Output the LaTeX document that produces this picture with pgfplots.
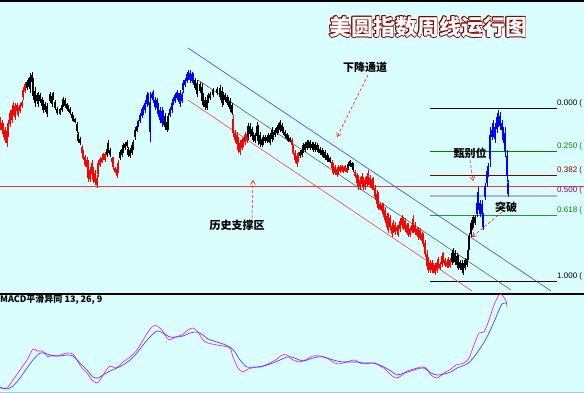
\documentclass[border=0pt]{standalone}
\usepackage{fontspec}
\setmainfont{Liberation Sans}
\newfontfamily\cjk{Noto Sans CJK SC}
\usepackage{pgfplots}
\usepackage{pgfplotstable}
\pgfplotsset{compat=1.18}
\usetikzlibrary{arrows.meta}
\definecolor{bgc}{RGB}{218,253,253}
\definecolor{cred}{RGB}{255,0,0}
\definecolor{cblue}{RGB}{0,0,255}
\definecolor{dred}{RGB}{128,0,0}
\definecolor{fgreen}{RGB}{0,128,0}
\definecolor{lgreen}{RGB}{40,150,40}
\definecolor{lav}{RGB}{176,176,230}
\definecolor{purp}{RGB}{128,0,128}
\definecolor{mag}{RGB}{255,0,255}

\pgfplotstableread{
x lo hi
0 117 130
2 120 133
3 123 137
5 127 143
7 127 147
8 120 137
10 110 127
12 107 123
13 102 115
15 103 120
17 103 113
18 107 117
20 103 113
22 100 108
23 87 100
25 82 93
82 145 155
83 150 160
85 155 167
87 157 170
88 160 182
90 167 182
92 160 177
93 167 183
95 170 185
97 175 188
98 160 177
100 157 167
102 157 163
103 153 160
105 152 162
112 157 163
113 157 170
115 167 173
117 167 178
118 160 173
233 115 137
235 130 143
237 132 147
238 137 153
240 140 155
242 138 150
243 137 147
245 132 145
247 132 143
292 138 147
293 145 155
295 150 163
297 153 167
298 152 162
332 160 170
333 163 175
335 165 175
337 167 177
338 165 175
340 165 173
342 165 172
343 167 173
345 165 172
347 167 173
355 170 178
357 173 185
358 175 190
360 177 190
362 173 187
363 177 190
365 177 190
367 173 187
368 170 185
370 175 188
372 178 190
373 177 190
375 185 200
377 190 208
378 192 210
380 203 210
382 203 213
383 203 217
385 207 223
387 213 230
388 213 233
390 215 230
392 223 237
393 220 233
395 222 235
397 225 233
398 225 237
400 218 232
402 215 228
403 217 230
405 218 232
407 223 235
408 223 237
410 227 237
412 223 233
413 215 233
415 222 235
417 227 237
418 227 240
420 228 240
422 232 243
423 233 247
425 240 257
427 250 270
428 257 273
430 260 273
432 260 273
433 263 273
435 263 275
437 260 273
438 257 268
440 262 270
442 253 267
443 252 263
445 258 267
447 260 268
448 257 268
450 258 268
}\redT

\pgfplotstableread{
x lo hi
27 80 90
28 78 87
30 73 93
32 72 85
33 78 100
35 87 107
37 93 103
38 92 107
40 93 103
42 97 108
43 100 113
45 102 112
47 103 117
50 92 103
52 93 107
53 92 100
55 100 110
57 107 115
60 108 115
62 103 112
63 97 107
65 98 108
67 103 110
68 105 112
70 107 115
72 112 120
73 115 122
75 118 123
77 122 133
78 132 143
80 137 145
107 147 157
108 140 153
110 148 157
120 150 160
122 147 157
123 143 153
125 142 150
127 140 148
128 147 157
130 148 158
132 143 155
133 140 150
135 127 140
137 125 132
165 113 130
167 120 132
168 113 130
195 78 90
197 80 97
200 82 93
202 83 105
203 93 107
205 97 110
207 98 110
208 93 103
210 92 100
213 88 97
217 87 95
220 85 100
222 87 107
223 92 105
225 93 102
227 95 105
228 97 107
230 98 112
232 103 115
248 123 140
250 123 137
252 127 138
253 132 142
255 133 143
257 122 140
258 125 145
260 132 147
262 137 147
263 135 145
265 135 143
267 135 143
268 133 142
270 133 145
272 127 142
273 132 140
275 128 137
277 125 135
278 123 133
280 120 132
282 123 133
283 127 135
285 130 138
287 133 140
288 135 142
290 137 142
300 150 158
302 148 157
303 143 153
305 142 152
307 140 150
308 140 148
310 140 150
312 142 150
313 142 152
315 142 152
317 143 152
318 145 153
320 147 155
322 148 157
323 150 158
325 150 160
327 153 162
328 155 162
330 157 163
348 162 170
350 160 167
352 162 168
353 163 172
452 250 265
453 248 263
455 250 265
457 253 268
458 255 270
460 260 270
462 260 273
463 263 275
465 258 270
467 257 267
468 247 260
469 233 250
471 220 237
472 217 230
473 215 228
475 215 225
}\blackT

\pgfplotstableread{
x lo hi
138 120 127
140 113 123
142 107 118
143 105 115
145 100 113
147 92 107
148 93 105
150 92 142
152 92 100
153 90 103
155 97 110
157 98 110
158 103 117
160 107 123
162 107 127
163 110 125
170 107 117
172 100 113
173 97 105
175 93 103
177 90 100
178 93 102
180 90 107
182 92 103
183 80 93
185 78 87
187 72 83
188 70 80
190 70 83
192 72 83
193 73 85
477 200 217
478 187 210
480 200 217
482 200 218
483 213 230
485 183 200
487 167 187
488 163 177
490 127 167
492 127 140
493 120 137
495 123 143
497 113 133
498 110 127
500 112 130
502 120 133
503 127 143
505 127 157
507 150 182
508 180 197
}\blueT

\pgfplotsset{
  wick/.style={draw=none,mark=none,forget plot,error bars/.cd,y dir=both,y explicit,error mark=none,error bar style={draw=#1,line width=0.6pt}},
  body/.style={draw=none,mark=none,forget plot,error bars/.cd,y dir=both,y explicit,error mark=none,error bar style={draw=#1,line width=1.4pt}},
}
\newcommand\wickplot[2]{\addplot[wick=#2] table[x=x,y expr={(\thisrow{lo}+\thisrow{hi})/2},y error expr={(\thisrow{hi}-\thisrow{lo})/2}] {#1};}
\newcommand\bodyplot[2]{\addplot[body=#2] table[x=x,y expr={(\thisrow{lo}+\thisrow{hi})/2},y error expr={0.3*(\thisrow{hi}-\thisrow{lo})}] {#1};}

\begin{document}
\begin{tikzpicture}
\fill[bgc] (0,0) rectangle (584pt,393pt);
\begin{axis}[width=584pt,height=393pt,scale only axis,
  xmin=0,xmax=584,ymin=0,ymax=393,y dir=reverse,
  axis lines=none, clip=true]
% frame lines
\addplot[black,line width=2pt] coordinates {(0,1) (584,1)};
\addplot[black,line width=1.6pt] coordinates {(0,294) (584,294)};
\addplot[black!20!bgc,line width=1.5pt] coordinates {(0,392.5) (584,392.5)};
% support line
\addplot[red!80!white,line width=0.8pt] coordinates {(0,186) (584,186)};
% fib levels
\addplot[black,line width=1pt] coordinates {(430,109) (557,109)};
\addplot[fgreen,line width=1pt] coordinates {(430,152) (557,152)};
\addplot[dred,line width=1pt] coordinates {(430,176) (557,176)};
\addplot[lav,line width=2pt] coordinates {(430,196) (557,196)};
\addplot[lgreen,line width=1pt] coordinates {(430,215) (557,215)};
\addplot[black,line width=1pt] coordinates {(430,281) (557,281)};
% channel
\addplot[blue!75!white,line width=0.6pt] coordinates {(188,48) (551,291)};
\addplot[black!70,line width=0.5pt] coordinates {(198,80) (511,290)};
\addplot[red!75!white,line width=0.6pt] coordinates {(188,100) (472,291)};
% candles
\wickplot{\redT}{cred}
\bodyplot{\redT}{cred}
\wickplot{\blackT}{black}
\bodyplot{\blackT}{black}
\wickplot{\blueT}{cblue}
\bodyplot{\blueT}{cblue}
% MACD
\addplot[mag,line width=0.6pt,smooth] coordinates {
(0,388) (7,388) (13,380) (20,370) (27,360) (33,349) (37,351) (42,351) (45,353) (48,357)
(52,355) (57,356) (63,354) (68,353) (73,354) (77,360) (82,368) (87,373) (92,380) (97,383)
(100,380) (105,372) (110,366) (115,368) (118,367) (123,362) (130,357) (137,350) (143,340)
(148,332) (153,326) (157,326) (162,330) (167,338) (170,340) (175,337) (182,335) (188,330)
(193,328) (198,332) (203,340) (208,343) (217,345) (223,346) (230,348) (233,357) (238,368)
(243,372) (248,369) (257,367) (263,366) (270,363) (277,359) (282,355) (287,355) (293,360)
(300,362) (307,359) (313,356) (320,356) (327,358) (333,362) (338,364) (343,363) (350,361)
(355,360) (360,363) (365,364) (370,363) (375,363) (380,366) (385,369) (391,375) (396,378)
(401,376) (407,371) (414,369) (421,367) (426,368) (431,375) (437,378) (444,373) (451,369)
(456,365) (464,363) (469,358) (474,345) (479,333) (484,332) (489,320) (494,305) (499,295)
(502,295) (506,301) (507,307)};
\addplot[cblue!80!white,line width=0.6pt,smooth] coordinates {
(0,387) (7,389) (13,386) (20,378) (27,368) (33,360) (40,353) (47,354) (53,356) (60,356)
(67,355) (73,356) (80,363) (87,370) (93,377) (98,378) (103,375) (110,371) (117,368) (123,365)
(130,360) (137,353) (143,345) (150,337) (157,331) (163,333) (170,337) (177,337) (183,336)
(190,333) (197,332) (203,335) (208,339) (217,342) (223,344) (230,347) (235,352) (240,360)
(247,367) (253,367) (260,367) (267,365) (273,363) (280,360) (287,357) (292,357) (297,359)
(303,361) (310,359) (317,357) (323,357) (330,359) (337,361) (343,362) (350,362) (357,362)
(363,363) (370,363) (377,364) (384,367) (391,371) (397,375) (404,373) (411,371) (417,369)
(424,368) (431,373) (437,375) (444,374) (451,372) (457,368) (467,364) (474,357) (481,347)
(487,337) (494,322) (499,310) (502,304) (506,303) (507,303)};
% annotations
\draw[red,line width=0.5pt,densely dashed,-{Straight Barb[length=4pt,width=5pt]}] (axis cs:368,75) -- (axis cs:337,137);
\draw[red,line width=0.5pt,densely dashed,-{Straight Barb[length=4pt,width=5pt]}] (axis cs:252,218) -- (axis cs:253,180);
\draw[red,line width=0.5pt,densely dashed,-{Straight Barb[length=4pt,width=5pt]}] (axis cs:470,160) -- (axis cs:473,181);
\draw[red,line width=0.5pt,densely dashed,-{Straight Barb[length=4pt,width=5pt]}] (axis cs:502,212) -- (axis cs:472,237);
\node[font=\cjk\fontsize{11}{11}\selectfont\bfseries] at (axis cs:365,67) {下降通道};
\node[font=\cjk\fontsize{11}{11}\selectfont\bfseries] at (axis cs:237,225) {历史支撑区};
\node[font=\cjk\fontsize{11}{11}\selectfont\bfseries] at (axis cs:470,153) {甄别位};
\node[font=\cjk\fontsize{11}{11}\selectfont\bfseries] at (axis cs:506,207) {突破};
\node[font=\cjk\fontsize{9}{9}\selectfont\bfseries,anchor=west,inner sep=0pt] at (axis cs:0,300) {MACD平滑异同 13, 26, 9};
% fib labels
\node[font=\fontsize{8}{8}\selectfont,anchor=west,inner sep=0pt] at (axis cs:557,103) {0.000 (};
\node[font=\fontsize{8}{8}\selectfont,anchor=west,inner sep=0pt,text=fgreen] at (axis cs:557,146) {0.250 (};
\node[font=\fontsize{8}{8}\selectfont,anchor=west,inner sep=0pt,text=dred] at (axis cs:557,170) {0.382 (};
\node[font=\fontsize{8}{8}\selectfont,anchor=west,inner sep=0pt,text=purp] at (axis cs:557,190) {0.500 (};
\node[font=\fontsize{8}{8}\selectfont,anchor=west,inner sep=0pt,text=fgreen] at (axis cs:557,210) {0.618 (};
\node[font=\fontsize{8}{8}\selectfont,anchor=west,inner sep=0pt] at (axis cs:557,276) {1.000 (};
\end{axis}
% title with outline
\foreach \dx/\dy in {-0.9/0,0.9/0,0/-0.9,0/0.9,-0.7/-0.7,0.7/0.7,-0.7/0.7,0.7/-0.7} {
  \node[text=dred,font=\cjk\fontsize{22}{22}\selectfont\bfseries] at (428pt+\dx pt,366pt+\dy pt) {美圆指数周线运行图};
}
\node[text=white,font=\cjk\fontsize{22}{22}\selectfont\bfseries] at (428pt,366pt) {美圆指数周线运行图};
\pgfresetboundingbox
\path[use as bounding box] (0,0) rectangle (584pt,393pt);
\end{tikzpicture}
\end{document}
